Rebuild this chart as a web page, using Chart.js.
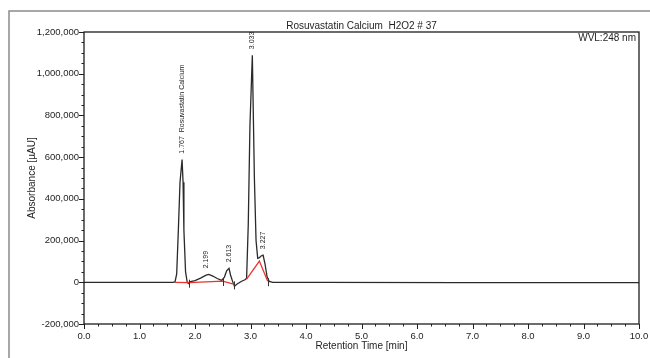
<!DOCTYPE html>
<html>
<head>
<meta charset="utf-8">
<script src="https://cdn.jsdelivr.net/npm/chart.js@4.4.0/dist/chart.umd.min.js"></script>
<style>
  body { margin: 0; background: #fff; }
  #wrap { width: 650px; height: 358px; position: relative; }
</style>
</head>
<body>
<div id="wrap"><canvas id="chromatogram"></canvas></div>
<script>
// chromatogram trace (retention time in min, absorbance in µAU)
const traceTimes = [0, 0.45, 1.6, 1.64, 1.67, 1.70, 1.73, 1.767, 1.785, 1.80, 1.83, 1.86, 1.88, 1.9, 2.0, 2.1, 2.2, 2.25, 2.32, 2.4, 2.48, 2.53, 2.57, 2.613, 2.64, 2.68, 2.71, 2.76, 2.84, 2.9, 2.93, 2.96, 2.99, 3.033, 3.07, 3.10, 3.13, 3.16, 3.19, 3.227, 3.26, 3.30, 3.34, 3.4, 4.25, 6.75, 10];
const traceValues = [0, 0, 0, 2000, 40000, 250000, 480000, 588000, 480000, 250000, 50000, 0, -6000, 2000, 8000, 20000, 34000, 38000, 30000, 18000, 9000, 25000, 55000, 67000, 35000, 2000, -19000, -8000, 5000, 12000, 19000, 280000, 750000, 1089000, 500000, 200000, 115000, 118000, 126000, 130000, 90000, 25000, 4000, 0, 0, -2000, -2000];

// integration baselines (null = break)
const baseTimes = [1.64, 1.9, 2.5, 2.71, 2.8, 2.93, 3.16, 3.31];
const baseValues = [0, -2000, 6000, -10000, null, 15000, 102000, 5000];

// integration boundary marks
const markTimes = [1.9, 2.5, 2.71, 3.31];
const markValues = [-2000, 6000, -10000, 5000];

// peak annotations
const peakTimes = [1.767, 2.199, 2.613, 3.033, 3.227];
const peakHeights = [588000, 38000, 67000, 1089000, 130000];
const peakLabels = ["1.767  Rosuvastatin Calcium", "2.199", "2.613", "3.033", "3.227"];

const xTicks = [0, 10, 0.25];            // min, max, step
const yTicks = [-200000, 1200000, 50000];

const chartTitle = "Rosuvastatin Calcium  H2O2 # 37";
const wvlText = "WVL:248 nm";
const xTitle = "Retention Time [min]";
const yTitle = "Absorbance [µAU]";

const FONT = "'Liberation Sans', Arial, sans-serif";
const INK = "#1e1e1e";

const overlay = {
  id: "overlay",
  afterDraw(chart) {
    const ctx = chart.ctx;
    const a = chart.chartArea;
    const x = chart.scales.x, y = chart.scales.y;
    ctx.save();

    // outer frame
    ctx.strokeStyle = "#8a8a8a";
    ctx.lineWidth = 1.5;
    ctx.beginPath();
    ctx.moveTo(9, 358);
    ctx.lineTo(9, 11);
    ctx.lineTo(650, 11);
    ctx.stroke();

    // plot box
    ctx.strokeStyle = INK;
    ctx.lineWidth = 1.3;
    ctx.strokeRect(a.left, a.top, a.right - a.left, a.bottom - a.top);

    // tick marks
    ctx.lineWidth = 1;
    ctx.beginPath();
    y.ticks.forEach(t => {
      const py = Math.round(y.getPixelForValue(t.value)) + 0.5;
      const len = t.value % 200000 === 0 ? 5 : 2.5;
      ctx.moveTo(a.left - len, py);
      ctx.lineTo(a.left, py);
    });
    x.ticks.forEach(t => {
      const px = Math.round(x.getPixelForValue(t.value)) + 0.5;
      const len = Number.isInteger(t.value) ? 5 : 2.5;
      ctx.moveTo(px, a.bottom);
      ctx.lineTo(px, a.bottom + len);
    });
    ctx.stroke();

    // integration boundary marks
    ctx.strokeStyle = "#333";
    ctx.beginPath();
    markTimes.forEach((t, i) => {
      const px = Math.round(x.getPixelForValue(t)) + 0.5;
      const py = y.getPixelForValue(markValues[i]);
      ctx.moveTo(px, py - 3);
      ctx.lineTo(px, py + 5);
    });
    ctx.stroke();

    // titles
    ctx.fillStyle = INK;
    ctx.font = "10px " + FONT;
    ctx.textAlign = "center";
    ctx.textBaseline = "middle";
    ctx.fillText(chartTitle, (a.left + a.right) / 2, 26);
    ctx.fillText(xTitle, (a.left + a.right) / 2, 346);
    ctx.textAlign = "right";
    ctx.fillText(wvlText, a.right - 3, 38);

    ctx.save();
    ctx.translate(32, (a.top + a.bottom) / 2);
    ctx.rotate(-Math.PI / 2);
    ctx.textAlign = "center";
    ctx.fillText(yTitle, 0, 0);
    ctx.restore();

    // peak labels
    ctx.font = "7px " + FONT;
    peakTimes.forEach((t, i) => {
      const px = x.getPixelForValue(t);
      const py = y.getPixelForValue(peakHeights[i]) - 6;
      ctx.save();
      ctx.translate(px, py);
      ctx.rotate(-Math.PI / 2);
      ctx.textAlign = "left";
      ctx.textBaseline = "middle";
      ctx.fillText(peakLabels[i], 0, 0);
      ctx.restore();
    });

    ctx.restore();
  }
};

const traceData = traceTimes.map((t, i) => ({ x: t, y: traceValues[i] }));
const baseData = baseTimes.map((t, i) => ({ x: t, y: baseValues[i] }));

const ctxChrom = document.querySelector("#chromatogram").getContext("2d");

const chromChart = new Chart(ctxChrom, {
  type: "line",
  data: {
    datasets: [
      {
        label: "baseline",
        data: baseData,
        borderColor: "#e8352c",
        borderWidth: 1.3,
        pointRadius: 0,
        spanGaps: false,
        tension: 0,
      },
      {
        label: "trace",
        data: traceData,
        borderColor: "#2a2a2a",
        borderWidth: 1.3,
        pointRadius: 0,
        tension: 0,
      },
    ],
  },
  options: {
    responsive: true,
    maintainAspectRatio: false,
    animation: false,
    events: [],
    layout: { padding: { top: 32, right: 11, left: 0, bottom: 0 } },
    plugins: { legend: { display: false }, title: { display: false }, tooltip: { enabled: false } },
    scales: {
      x: {
        type: "linear",
        min: xTicks[0],
        max: xTicks[1],
        grid: { display: false, drawTicks: false },
        border: { display: false },
        afterFit: s => { s.height = 34; s.paddingLeft = 0; s.paddingRight = 0; },
        ticks: {
          stepSize: xTicks[2],
          autoSkip: false,
          maxRotation: 0,
          padding: 7,
          color: INK,
          font: { family: FONT, size: 9.5 },
          callback: v => Number.isInteger(v) ? v.toFixed(1) : "",
        },
      },
      y: {
        type: "linear",
        min: yTicks[0],
        max: yTicks[1],
        grid: { display: false, drawTicks: false },
        border: { display: false },
        afterFit: s => { s.width = 84; s.paddingTop = 0; s.paddingBottom = 0; },
        ticks: {
          stepSize: yTicks[2],
          autoSkip: false,
          padding: 5,
          color: INK,
          font: { family: FONT, size: 9.5 },
          callback: v => v % 200000 === 0 ? v.toLocaleString("en-US") : "",
        },
      },
    },
  },
  plugins: [overlay],
});
</script>
</body>
</html>
